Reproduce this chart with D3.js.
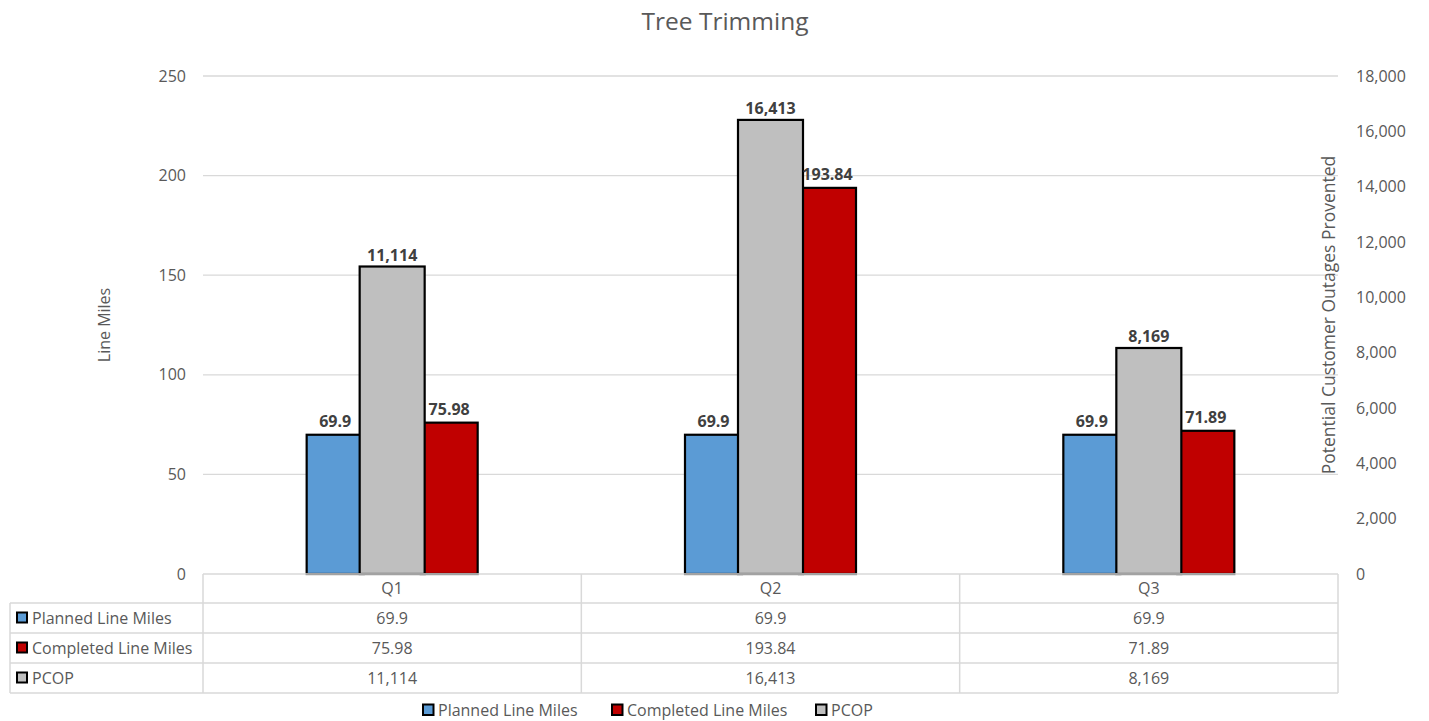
<!DOCTYPE html>
<html>
<head>
<meta charset="utf-8">
<script src="https://cdn.jsdelivr.net/npm/d3@7"></script>
<style>
  html, body { margin: 0; padding: 0; background: #fff; }
  svg { display: block; font-family: "Open Sans", "Noto Sans", sans-serif; }
</style>
</head>
<body>
<svg id="chart" width="1429" height="721"></svg>
<script>
// Quarterly tree trimming results
const quarters = ["Q1", "Q2", "Q3"];
const plannedMiles = [69.9, 69.9, 69.9];
const completedMiles = [75.98, 193.84, 71.89];
const pcop = [11114, 16413, 8169];
const leftTicks = [0, 50, 100, 150, 200, 250];
const rightTicks = [0, 2000, 4000, 6000, 8000, 10000, 12000, 14000, 16000, 18000];
const seriesNames = ["Planned Line Miles", "Completed Line Miles", "PCOP"];
const seriesColors = ["#5b9bd5", "#c00000", "#bfbfbf"];

const svg = d3.select("#chart");
const textColor = "#595959";
const gridColor = "#d9d9d9";

const plot = { left: 203, right: 1338, top: 76, bottom: 574 };

const x0 = d3.scaleBand().domain(quarters).range([plot.left, plot.right]);
const slot = d3.scaleBand()
  .domain(["Planned", "PCOP", "Completed"])
  .range([x0.bandwidth() * 0.274, x0.bandwidth() * 0.726]);
const yL = d3.scaleLinear().domain([0, 250]).range([plot.bottom, plot.top]);
const yR = d3.scaleLinear().domain([0, 18000]).range([plot.bottom, plot.top]);

const fmtComma = d3.format(",");

// Title
svg.append("text")
  .attr("x", 725).attr("y", 30)
  .attr("text-anchor", "middle")
  .attr("font-size", 24.5)
  .attr("fill", textColor)
  .text("Tree Trimming");

// Gridlines (primary axis)
svg.append("g")
  .selectAll("line")
  .data(leftTicks.filter(d => d > 0))
  .join("line")
  .attr("x1", plot.left).attr("x2", plot.right)
  .attr("y1", d => yL(d)).attr("y2", d => yL(d))
  .attr("stroke", gridColor).attr("stroke-width", 1.3);

// Left axis
const leftAxis = d3.axisLeft(yL).tickValues(leftTicks).tickSize(0).tickPadding(17);
const gL = svg.append("g").attr("transform", `translate(${plot.left},0)`).call(leftAxis);
gL.select(".domain").remove();
gL.selectAll("text").attr("font-size", 16).attr("fill", textColor)
  .attr("font-family", "Open Sans, sans-serif");

// Right axis
const rightAxis = d3.axisRight(yR).tickValues(rightTicks).tickSize(0).tickPadding(18)
  .tickFormat(fmtComma);
const gR = svg.append("g").attr("transform", `translate(${plot.right},0)`).call(rightAxis);
gR.select(".domain").remove();
gR.selectAll("text").attr("font-size", 16).attr("fill", textColor)
  .attr("font-family", "Open Sans, sans-serif");

// Axis titles
svg.append("text")
  .attr("transform", `translate(110,${(plot.top + plot.bottom) / 2}) rotate(-90)`)
  .attr("text-anchor", "middle")
  .attr("font-size", 16).attr("fill", textColor)
  .text("Line Miles");
svg.append("text")
  .attr("transform", `translate(1335,${(plot.top + plot.bottom) / 2 - 10}) rotate(-90)`)
  .attr("text-anchor", "middle")
  .attr("font-size", 17.5).attr("fill", textColor)
  .text("Potential Customer Outages Provented");

// Bars
const rows = quarters.map((q, i) => ({
  q, planned: plannedMiles[i], completed: completedMiles[i], pcop: pcop[i]
}));
const bars = svg.append("g");
const widen = 4;

bars.selectAll("rect.planned").data(rows).join("rect")
  .attr("class", "planned")
  .attr("x", d => x0(d.q) + slot("Planned"))
  .attr("width", slot.bandwidth())
  .attr("y", d => yL(d.planned))
  .attr("height", d => yL(0) - yL(d.planned))
  .attr("fill", seriesColors[0]).attr("stroke", "#000").attr("stroke-width", 2.2);

bars.selectAll("rect.completed").data(rows).join("rect")
  .attr("class", "completed")
  .attr("x", d => x0(d.q) + slot("Completed"))
  .attr("width", slot.bandwidth())
  .attr("y", d => yL(d.completed))
  .attr("height", d => yL(0) - yL(d.completed))
  .attr("fill", seriesColors[1]).attr("stroke", "#000").attr("stroke-width", 2.2);

bars.selectAll("rect.pcop").data(rows).join("rect")
  .attr("class", "pcop")
  .attr("x", d => x0(d.q) + slot("PCOP") - widen)
  .attr("width", slot.bandwidth() + 2 * widen)
  .attr("y", d => yR(d.pcop))
  .attr("height", d => yR(0) - yR(d.pcop))
  .attr("fill", seriesColors[2]).attr("stroke", "#000").attr("stroke-width", 2.2);

// Value labels
const labels = svg.append("g")
  .attr("font-size", 16).attr("font-weight", "bold").attr("fill", "#404040")
  .attr("text-anchor", "middle");
labels.selectAll("text.lp").data(rows).join("text")
  .attr("x", d => x0(d.q) + slot("Planned") + slot.bandwidth() / 2)
  .attr("y", d => yL(d.planned) - 8)
  .text(d => d.planned);
labels.selectAll("text.lc").data(rows).join("text")
  .attr("x", d => x0(d.q) + slot("Completed") + slot.bandwidth() / 2)
  .attr("y", d => yL(d.completed) - 8)
  .text(d => d.completed);
labels.selectAll("text.lg").data(rows).join("text")
  .attr("x", d => x0(d.q) + slot("PCOP") + slot.bandwidth() / 2)
  .attr("y", d => yR(d.pcop) - 6)
  .text(d => fmtComma(d.pcop));

// Data table
const tableLeft = 10;
const rowY = [574, 603, 633, 663, 693];
const table = svg.append("g").attr("stroke", gridColor).attr("stroke-width", 1.5);
// header row top line (category area only)
table.append("line").attr("x1", plot.left).attr("x2", plot.right)
  .attr("y1", rowY[0]).attr("y2", rowY[0]);
rowY.slice(1).forEach(y => {
  table.append("line").attr("x1", tableLeft).attr("x2", plot.right)
    .attr("y1", y).attr("y2", y);
});
table.append("line").attr("x1", tableLeft).attr("x2", tableLeft)
  .attr("y1", rowY[1]).attr("y2", rowY[4]);
quarters.forEach(q => {
  table.append("line").attr("x1", x0(q)).attr("x2", x0(q))
    .attr("y1", rowY[0]).attr("y2", rowY[4]);
});
table.append("line").attr("x1", plot.right).attr("x2", plot.right)
  .attr("y1", rowY[0]).attr("y2", rowY[4]);

const cellText = svg.append("g").attr("font-size", 16).attr("fill", textColor);
// category header
cellText.selectAll("text.cat").data(quarters).join("text")
  .attr("x", d => x0(d) + x0.bandwidth() / 2)
  .attr("y", (rowY[0] + rowY[1]) / 2 + 5.5)
  .attr("text-anchor", "middle")
  .text(d => d);

const tableSeries = [
  { name: seriesNames[0], color: seriesColors[0], values: plannedMiles.map(String) },
  { name: seriesNames[1], color: seriesColors[1], values: completedMiles.map(String) },
  { name: seriesNames[2], color: seriesColors[2], values: pcop.map(fmtComma) }
];
tableSeries.forEach((s, r) => {
  const cy = (rowY[r + 1] + rowY[r + 2]) / 2;
  svg.append("rect")
    .attr("x", 17).attr("y", cy - 5.5).attr("width", 10).attr("height", 10)
    .attr("fill", s.color).attr("stroke", "#000").attr("stroke-width", 2);
  cellText.append("text")
    .attr("x", 32).attr("y", cy + 5.5)
    .text(s.name);
  s.values.forEach((v, i) => {
    cellText.append("text")
      .attr("x", x0(quarters[i]) + x0.bandwidth() / 2)
      .attr("y", cy + 5.5)
      .attr("text-anchor", "middle")
      .text(v);
  });
});

// Legend
const legendItems = [
  { name: seriesNames[0], color: seriesColors[0], x: 423 },
  { name: seriesNames[1], color: seriesColors[1], x: 612 },
  { name: seriesNames[2], color: seriesColors[2], x: 816 }
];
const legend = svg.append("g");
legendItems.forEach(it => {
  legend.append("rect")
    .attr("x", it.x).attr("y", 704.5).attr("width", 10.5).attr("height", 10.5)
    .attr("fill", it.color).attr("stroke", "#000").attr("stroke-width", 2);
  legend.append("text")
    .attr("x", it.x + 15).attr("y", 715.5)
    .attr("font-size", 16).attr("fill", textColor)
    .text(it.name);
});
</script>
</body>
</html>
